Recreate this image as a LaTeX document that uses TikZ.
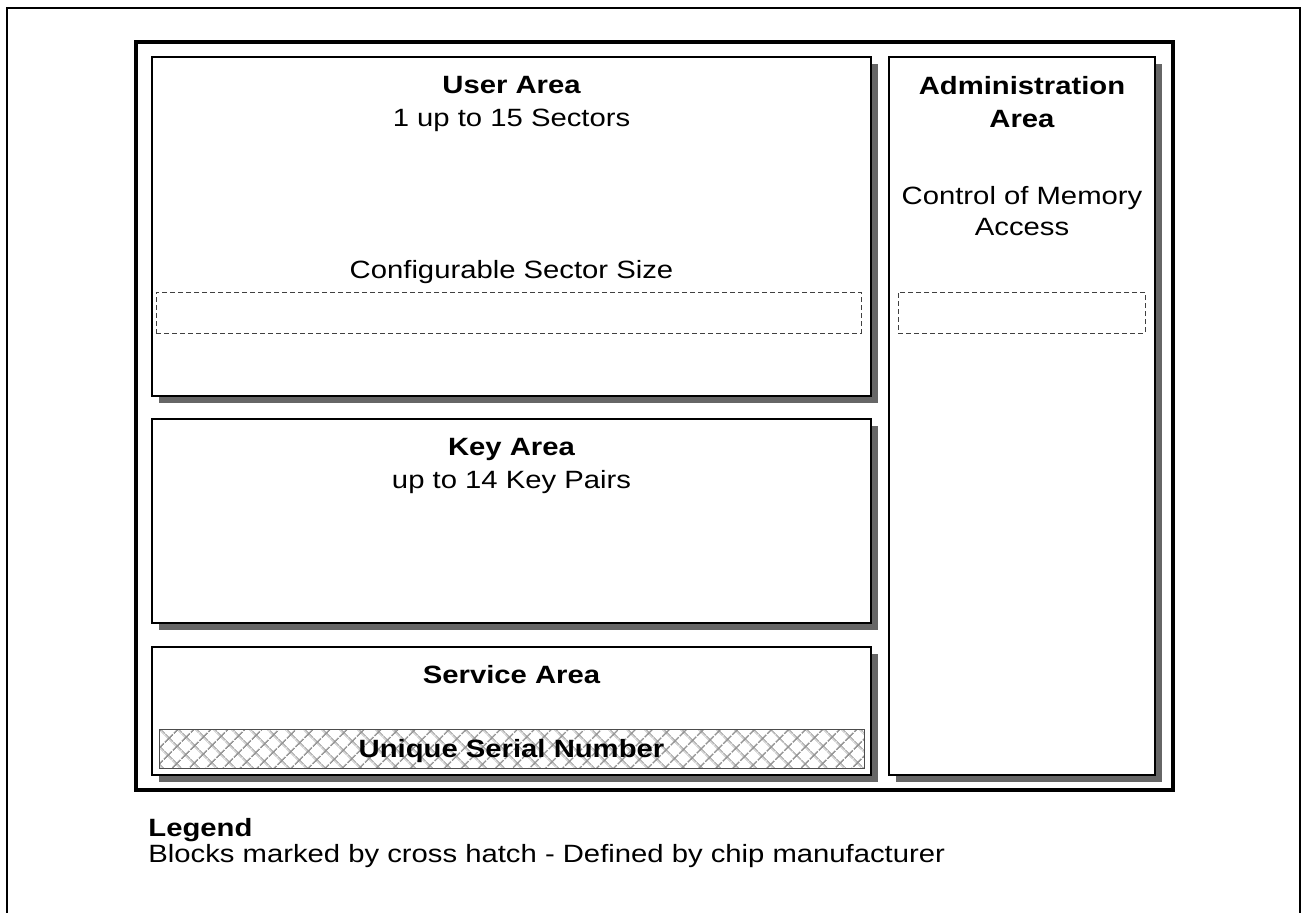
\documentclass[tikz,border=0pt]{standalone}
\usepackage{fontspec}
\setmainfont[FakeStretch=1.17]{Liberation Sans}
\usetikzlibrary{fit,shadows,patterns.meta}

\begin{document}
\begin{tikzpicture}[
x=0.5pt, y=-0.5pt,
  area/.style = {rectangle, draw, line width=1pt, fill=white,% styles of the memory blocks
                 inner sep=0pt, outer sep=0pt,
                 drop shadow={shadow xshift=3.7pt, shadow yshift=-3.7pt,
                              fill=black!60, opacity=1}},
  frame/.style = {rectangle, draw, line width=1.8pt, inner sep=0pt},
    opt/.style = {rectangle, draw=black!75, line width=0.5pt,% configurable part
                  dash pattern=on 2.5pt off 1.5pt, inner sep=0pt},
  hatch/.style = {rectangle, draw=black!70, line width=0.5pt, inner sep=0pt,
                  pattern={Hatch[angle=45, distance=6.4pt, line width=0.85pt]},
                  pattern color=black!42},
    txt/.style = {anchor=base, inner sep=0pt,
                  font=\fontsize{12.5pt}{12.5pt}\selectfont},
    ttl/.style = {txt, font=\fontsize{12.5pt}{12.5pt}\selectfont\bfseries},
                        ]
\useasboundingbox (0,0) rectangle (1302,912);
% page border, open at the bottom
\coordinate (bl) at (7,915);
\coordinate (tl) at (7,8);
\coordinate (tr) at (1300,8);
\coordinate (br) at (1300,915);
\draw[line width=1pt] (bl) -- (tl) -- (tr) -- (br);
% memory frame and blocks
\node[frame, fit={(136,42) (1173,790)}] (mem) {};
\node[area, fit={(152,57) (871,396)}]   (user) {};
\node[area, fit={(152,419) (871,623)}]  (key) {};
\node[area, fit={(152,647) (871,775)}]  (serv) {};
\node[area, fit={(889,57) (1155,775)}]  (adm) {};
\node[opt, fit={(156,292) (861,333)}]   (user-opt) {};
\node[opt, fit={(898,292) (1145,333)}]  (adm-opt) {};
\node[hatch, fit={(159,729) (864,768)}] (usn) {};
% texts
\node[ttl] (user-t) at (511.5,93)  {User Area};
\node[txt] (user-n) at (511.5,126) {1 up to 15 Sectors};
\node[txt] (user-c) at (511.5,278) {Configurable Sector Size};
\node[ttl] (key-t)  at (511.5,455) {Key Area};
\node[txt] (key-n)  at (511.5,488) {up to 14 Key Pairs};
\node[ttl] (serv-t) at (511.5,683) {Service Area};
\node[ttl] (usn-t)  at (511.5,757) {Unique Serial Number};
\node[ttl] (adm-t1) at (1022,94)   {Administration};
\node[ttl] (adm-t2) at (1022,127)  {Area};
\node[txt] (adm-c1) at (1022,204)  {Control of Memory};
\node[txt] (adm-c2) at (1022,235)  {Access};
% legend
\node[ttl, anchor=base west] (leg-t) at (148,836) {Legend};
\node[txt, anchor=base west] (leg-x) at (148,862)
     {Blocks marked by cross hatch - Defined by chip manufacturer};
\end{tikzpicture}
\end{document}
